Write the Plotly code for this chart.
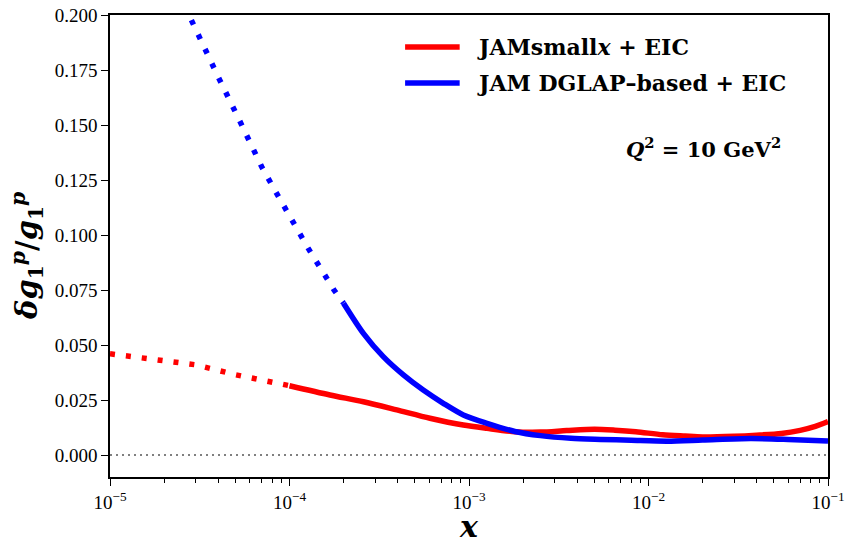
import plotly.graph_objects as go

# Red: JAMsmallx + EIC
red_x_dot = [1e-5, 2e-5, 3e-5, 5e-5, 8e-5, 1e-4]
red_y_dot = [0.046, 0.043, 0.041, 0.0365, 0.033, 0.0315]
red_x = [1e-4, 1.68e-4, 2.58e-4, 3.96e-4, 6.06e-4, 9.3e-4, 1.26e-3, 1.8e-3, 2.5e-3, 3.5e-3,
         5e-3, 6.5e-3, 8.5e-3, 1.2e-2, 1.6e-2, 2e-2, 3e-2, 4e-2, 5.5e-2, 7e-2, 8.5e-2, 1e-1]
red_y = [0.0315, 0.0273, 0.0242, 0.0205, 0.0167, 0.0136, 0.0121, 0.0106, 0.0104, 0.0111,
         0.0117, 0.0113, 0.0106, 0.0092, 0.0086, 0.0082, 0.0085, 0.009, 0.0098, 0.0112, 0.013, 0.0152]

# Blue: JAM DGLAP-based + EIC
blue_x_dot = [2e-5, 2.73e-5, 4e-5, 5.2e-5, 7e-5, 8.4e-5, 1e-4, 1.27e-4, 1.77e-4, 2e-4]
blue_y_dot = [0.224, 0.2, 0.172, 0.153, 0.131, 0.1195, 0.1085, 0.094, 0.075, 0.069]
blue_x = [2e-4, 2.58e-4, 3.33e-4, 4.31e-4, 5.56e-4, 7.19e-4, 9.3e-4, 1.26e-3, 1.8e-3, 2.5e-3, 3.7e-3,
          5.4e-3, 8e-3, 1.27e-2, 2e-2, 3.7e-2, 6e-2, 1e-1]
blue_y = [0.069, 0.0553, 0.0447, 0.0364, 0.0295, 0.0235, 0.0182, 0.0144, 0.0107, 0.0088, 0.0076,
          0.0071, 0.0067, 0.0063, 0.0068, 0.0075, 0.0071, 0.0064]

legend_labels = ["<b>JAMsmall<i>x</i> + EIC</b>", "<b>JAM DGLAP–based + EIC</b>"]

x_tickvals = [1e-5, 1e-4, 1e-3, 1e-2, 1e-1]
x_ticktext = ["10<sup>−5</sup>", "10<sup>−4</sup>", "10<sup>−3</sup>", "10<sup>−2</sup>", "10<sup>−1</sup>"]
y_tickvals = [0.0, 0.025, 0.05, 0.075, 0.1, 0.125, 0.15, 0.175, 0.2]
minor_vals = [m * d for d in [1e-5, 1e-4, 1e-3, 1e-2] for m in range(2, 10)]

RED = "#ff0000"
BLUE = "#0000ff"
LW = 5.5
DOT = "5px,11px"
FONT = "Liberation Serif"
BFONT = "DejaVu Serif"

fig = go.Figure()
fig.add_trace(go.Scatter(x=red_x_dot, y=red_y_dot, mode="lines", showlegend=False,
                         line=dict(color=RED, width=LW, dash=DOT)))
fig.add_trace(go.Scatter(x=blue_x_dot, y=blue_y_dot, mode="lines", showlegend=False,
                         line=dict(color=BLUE, width=LW, dash=DOT)))
fig.add_trace(go.Scatter(x=red_x, y=red_y, mode="lines", name=legend_labels[0], showlegend=False,
                         line=dict(color=RED, width=LW, shape="spline", smoothing=0.8)))
fig.add_trace(go.Scatter(x=blue_x, y=blue_y, mode="lines", name=legend_labels[1], showlegend=False,
                         line=dict(color=BLUE, width=LW, shape="spline", smoothing=0.8)))

fig.add_shape(type="line", xref="paper", x0=0, x1=1, yref="y", y0=0, y1=0,
              line=dict(color="gray", width=2.2, dash="2px,4px"), layer="below")

# manual legend (paper coordinates)
for label, col, yy in zip(legend_labels, [RED, BLUE], [0.931, 0.853]):
    fig.add_shape(type="line", xref="paper", yref="paper", x0=0.411, x1=0.487, y0=yy, y1=yy,
                  line=dict(color=col, width=LW))
    fig.add_annotation(xref="paper", yref="paper", x=0.508, y=yy, xanchor="left", yanchor="middle",
                       showarrow=False, text=label, font=dict(family=BFONT, size=22, color="black"))

fig.add_annotation(xref="paper", yref="paper", x=0.937, y=0.712, xanchor="right", yanchor="middle",
                   showarrow=False, text="<b><i>Q</i><sup>2</sup> = 10 GeV<sup>2</sup></b>",
                   font=dict(family=BFONT, size=21, color="black"))

# y-axis title as an annotation so it can sit where the reference puts it
fig.add_annotation(xref="paper", yref="paper", x=-0.116, y=0.478, xanchor="center", yanchor="middle",
                   showarrow=False, textangle=-90,
                   text="<b><i>δg</i><sub>1</sub><sup><i>p</i></sup>/<i>g</i><sub>1</sub><sup><i>p</i></sup></b>",
                   font=dict(family=BFONT, size=29, color="black"))

fig.update_layout(
    width=849, height=544,
    margin=dict(l=110, r=21, t=15, b=67),
    paper_bgcolor="white", plot_bgcolor="white",
    font=dict(family=FONT, size=19, color="black"),
    showlegend=False,
    xaxis=dict(type="log", range=[-5, -1], tickvals=x_tickvals, ticktext=x_ticktext,
               ticks="outside", ticklen=7, tickwidth=1.3, tickcolor="black",
               showline=True, linecolor="black", linewidth=1.5, mirror=True,
               showgrid=False, zeroline=False, automargin=False, ticklabeloverflow="allow",
               minor=dict(ticks="outside", ticklen=4, tickwidth=1, tickcolor="black",
                          tickvals=minor_vals, showgrid=False),
               title=dict(text="<b><i>x</i></b>", font=dict(family=BFONT, size=30), standoff=4)),
    yaxis=dict(range=[-0.01, 0.2], tickvals=y_tickvals, tickformat=".3f",
               ticks="outside", ticklen=7, tickwidth=1.3, tickcolor="black",
               showline=True, linecolor="black", linewidth=1.5, mirror=True,
               showgrid=False, zeroline=False, automargin=False, ticklabeloverflow="allow"),
)

# remove the default 8px page margin so the figure fills the window exactly
fig.write_html("out.html", config={"displayModeBar": False},
               post_script="document.body.style.margin='0';")
